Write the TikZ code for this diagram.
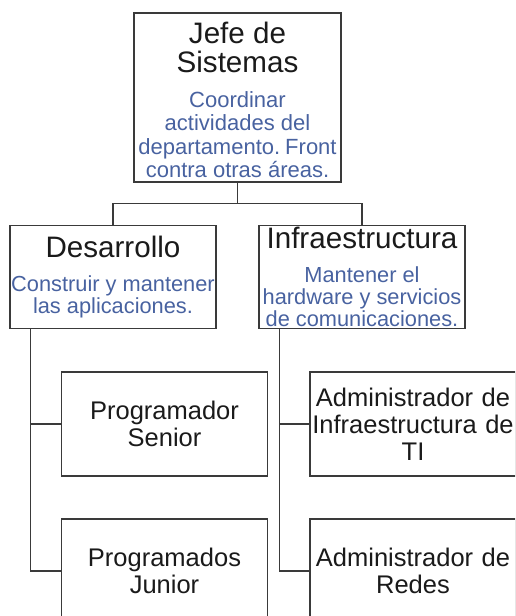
\documentclass[tikz,border=0pt]{standalone}
\usepackage{fontspec}
\setmainfont{Liberation Sans}
\usetikzlibrary{calc}
\definecolor{framegray}{RGB}{58,58,58}
\definecolor{taskblue}{RGB}{72,98,160}
\definecolor{inkblack}{RGB}{26,26,26}

\begin{document}
\begin{tikzpicture}[x=1pt,y=-1pt,
  every node/.style={align=center,text=inkblack},
  unit/.style={draw=framegray,line width=1.3pt,inner sep=0pt,minimum width=206pt,minimum height=103pt,text width=206pt},
  role/.style={unit,minimum height=104pt,font=\fontsize{25.5}{27}\selectfont},
  link/.style={framegray,line width=1.3pt}]
  \useasboundingbox (0,0) rectangle (515,616);
  \clip (0,0) rectangle (515,616);
  \node[unit,minimum width=207pt,text width=207pt,minimum height=169pt] (jefe) at (237.5,97.5)
    {{\fontsize{29.6}{29}\selectfont\spaceskip=\fontdimen2\font Jefe de\\Sistemas\par}\vspace{11.7pt}%
     {\fontsize{22}{23.3}\selectfont\spaceskip=\fontdimen2\font\leavevmode\color{taskblue}Coordinar\\actividades del\\departamento. Front\\contra otras áreas.\par}\vspace{-5pt}};
  \node[unit] (des) at (113,277)
    {{\fontsize{29.6}{29}\selectfont\spaceskip=\fontdimen2\font Desarrollo\par}\vspace{12pt}%
     {\fontsize{21.8}{22}\selectfont\spaceskip=\fontdimen2\font\leavevmode\color{taskblue}Construir y mantener\\las aplicaciones.\par}};
  \node[unit] (infra) at (362,277)
    {{\fontsize{29.6}{29}\selectfont\spaceskip=\fontdimen2\font Infraestructura\par}\vspace{12pt}%
     {\fontsize{21.8}{22}\selectfont\spaceskip=\fontdimen2\font\leavevmode\color{taskblue}Mantener el\\hardware y servicios\\de comunicaciones.\par}};
  \node[role] (senior) at (164.5,424) {Programador\\Senior};
  \node[role] (junior) at (164.5,571) {Programados\\Junior};
  \node[role] (admti) at (413,424) {Administrador de\\Infraestructura de\\TI};
  \node[role] (admred) at (413,571) {Administrador de\\Redes};
  % lineas del organigrama
  \draw[link] (jefe.south) -- ++(0,21) coordinate (fork);
  \draw[link] (fork) -| (des.north);
  \draw[link] (fork) -| (infra.north);
  \draw[link] ([xshift=21pt]des.south west) |- (senior.west);
  \draw[link] ([xshift=21pt]des.south west) |- (junior.west);
  \draw[link] ([xshift=21pt]infra.south west) |- (admti.west);
  \draw[link] ([xshift=21pt]infra.south west) |- (admred.west);
\end{tikzpicture}
\end{document}
